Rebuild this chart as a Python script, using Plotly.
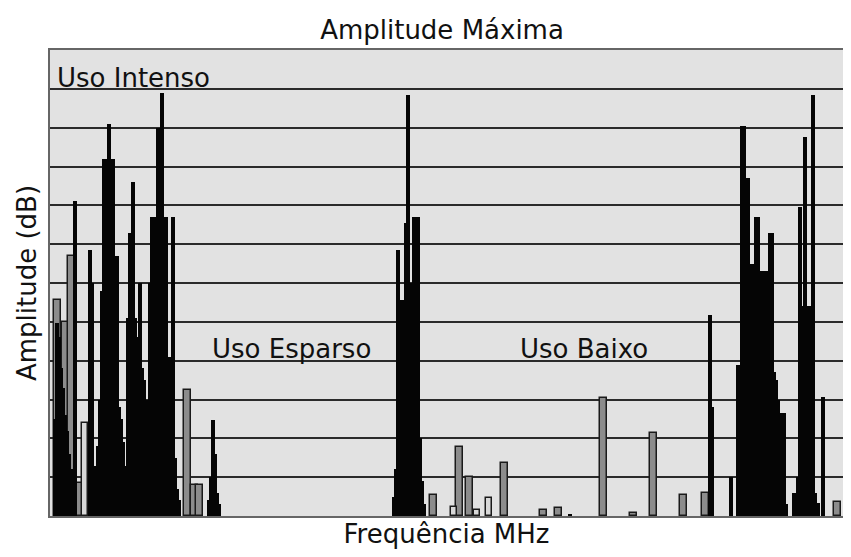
import plotly.graph_objects as go

# ---- data (frequency index, amplitude in grid units) ----
black_freq = [55, 57, 59, 61, 63, 65, 67, 69, 71, 73, 75,
              90, 92, 96, 98, 100, 102, 104, 106, 108, 109, 111, 113, 115, 117,
              119, 121, 123, 125, 127, 128, 130, 132, 133, 135, 137, 139, 140, 142,
              144, 146, 148, 150, 152, 154, 156, 158, 160, 162, 164, 166, 168, 170,
              173, 175, 177, 179,
              209, 211, 213, 215, 217, 219,
              394, 396, 398, 400, 402, 404, 406, 408, 410, 412, 414, 416, 418, 420, 422, 424,
              570,
              710, 712, 731,
              738, 740, 742, 744, 746, 748, 750, 752, 754, 756, 758, 760, 762, 764, 766,
              770, 772, 774, 776, 778, 780, 782, 784, 786,
              794, 796, 798, 800, 802, 805, 807, 809, 811, 813, 815, 818, 823]
black_amp = [2.5, 4.97, 4.6, 3.8, 3.3, 2.6, 2.2, 1.6, 1.2, 0.9, 8.1,
             6.85, 6.0, 1.3, 1.8, 3.0, 5.8, 9.2, 9.2, 9.2, 10.1, 9.2, 9.2, 6.7, 6.7,
             2.8, 2.5, 1.9, 1.3, 0.85, 5.1, 7.3, 5.1, 8.6, 5.1, 4.6, 4.2, 6.0, 3.8,
             3.5, 3.0, 2.0, 6.0, 7.7, 7.7, 7.7, 10.0, 7.7, 10.9, 7.7, 7.7, 4.1, 4.1,
             7.7, 1.5, 0.7, 0.4,
             0.4, 1.0, 2.47, 1.6, 0.6, 0.3,
             0.5, 1.2, 6.85, 5.57, 5.57, 5.57, 7.55, 10.85, 6.0, 6.0, 7.7, 7.7, 7.7, 2.0, 0.9, 0.3,
             0.05,
             5.18, 2.8, 1.0,
             3.9, 3.9, 10.05, 10.05, 8.7, 8.7, 6.5, 6.5, 6.5, 7.7, 7.7, 6.3, 6.3, 6.3, 6.3,
             7.3, 7.3, 3.7, 3.5, 3.0, 2.65, 2.65, 2.65, 0.3,
             0.6, 0.4, 1.0, 7.96, 5.4, 9.77, 5.4, 5.4, 5.4, 10.85, 0.6, 0.33, 3.07]

gray_freq = [57, 65, 71, 80, 187, 194, 199, 433, 459, 469, 504, 543, 558, 603, 633, 653, 683, 705, 837]
gray_amp = [5.57, 5.0, 6.7, 0.85, 3.25, 0.8, 0.8, 0.55, 1.78, 1.0, 1.37, 0.15, 0.2, 3.04, 0.08, 2.14, 0.55, 0.6, 0.36]

light_freq = [85, 454, 477, 489]
light_amp = [2.4, 0.23, 0.15, 0.46]

labels = ["Uso Intenso", "Uso Esparso", "Uso Baixo"]
label_freq = [55, 210, 518]
label_amp = [11.29, 4.3, 4.3]

FONT = "DejaVu Sans"
FS = 26
W, H = 835, 541  # the page body adds 8px margins, so this fills the 851x557 window

fig = go.Figure()
fig.add_trace(go.Bar(x=gray_freq, y=gray_amp, width=7,
                     marker=dict(color="#8c8c8c", line=dict(color="#1a1a1a", width=1.5)),
                     showlegend=False))
fig.add_trace(go.Bar(x=light_freq, y=light_amp, width=6,
                     marker=dict(color="#d8d8d8", line=dict(color="#1a1a1a", width=1.5)),
                     showlegend=False))
fig.add_trace(go.Bar(x=black_freq, y=black_amp, width=3.5,
                     marker=dict(color="#050505", line=dict(width=0)),
                     showlegend=False))

for t, fx, fy in zip(labels, label_freq, label_amp):
    fig.add_annotation(x=fx, y=fy, text=t, showarrow=False, xanchor="left", yanchor="middle",
                       font=dict(family=FONT, size=FS, color="#111"))

fig.update_layout(
    width=W, height=H,
    margin=dict(l=42, r=0, t=42, b=33),
    paper_bgcolor="white", plot_bgcolor="#e2e2e2",
    barmode="overlay", bargap=0,
    title=dict(text="Amplitude Máxima", x=434 / W, xanchor="center",
               y=1 - 22 / H, yanchor="middle",
               font=dict(family=FONT, size=FS, color="#111")),
    xaxis=dict(range=[50, 843], showticklabels=False, ticks="", showgrid=False,
               zeroline=False, showline=True, mirror=True, linecolor="#666", linewidth=2,
               title=dict(text="Frequência MHz", standoff=12,
                          font=dict(family=FONT, size=FS, color="#111"))),
    yaxis=dict(range=[0, 12], dtick=1, showticklabels=False, ticks="",
               showgrid=True, gridcolor="#2b2b2b", gridwidth=2, zeroline=False,
               showline=True, linecolor="#666", linewidth=2,
               title=dict(text="Amplitude (dB)", standoff=4,
                          font=dict(family=FONT, size=FS, color="#111"))),
)

fig.write_html("out.html")
